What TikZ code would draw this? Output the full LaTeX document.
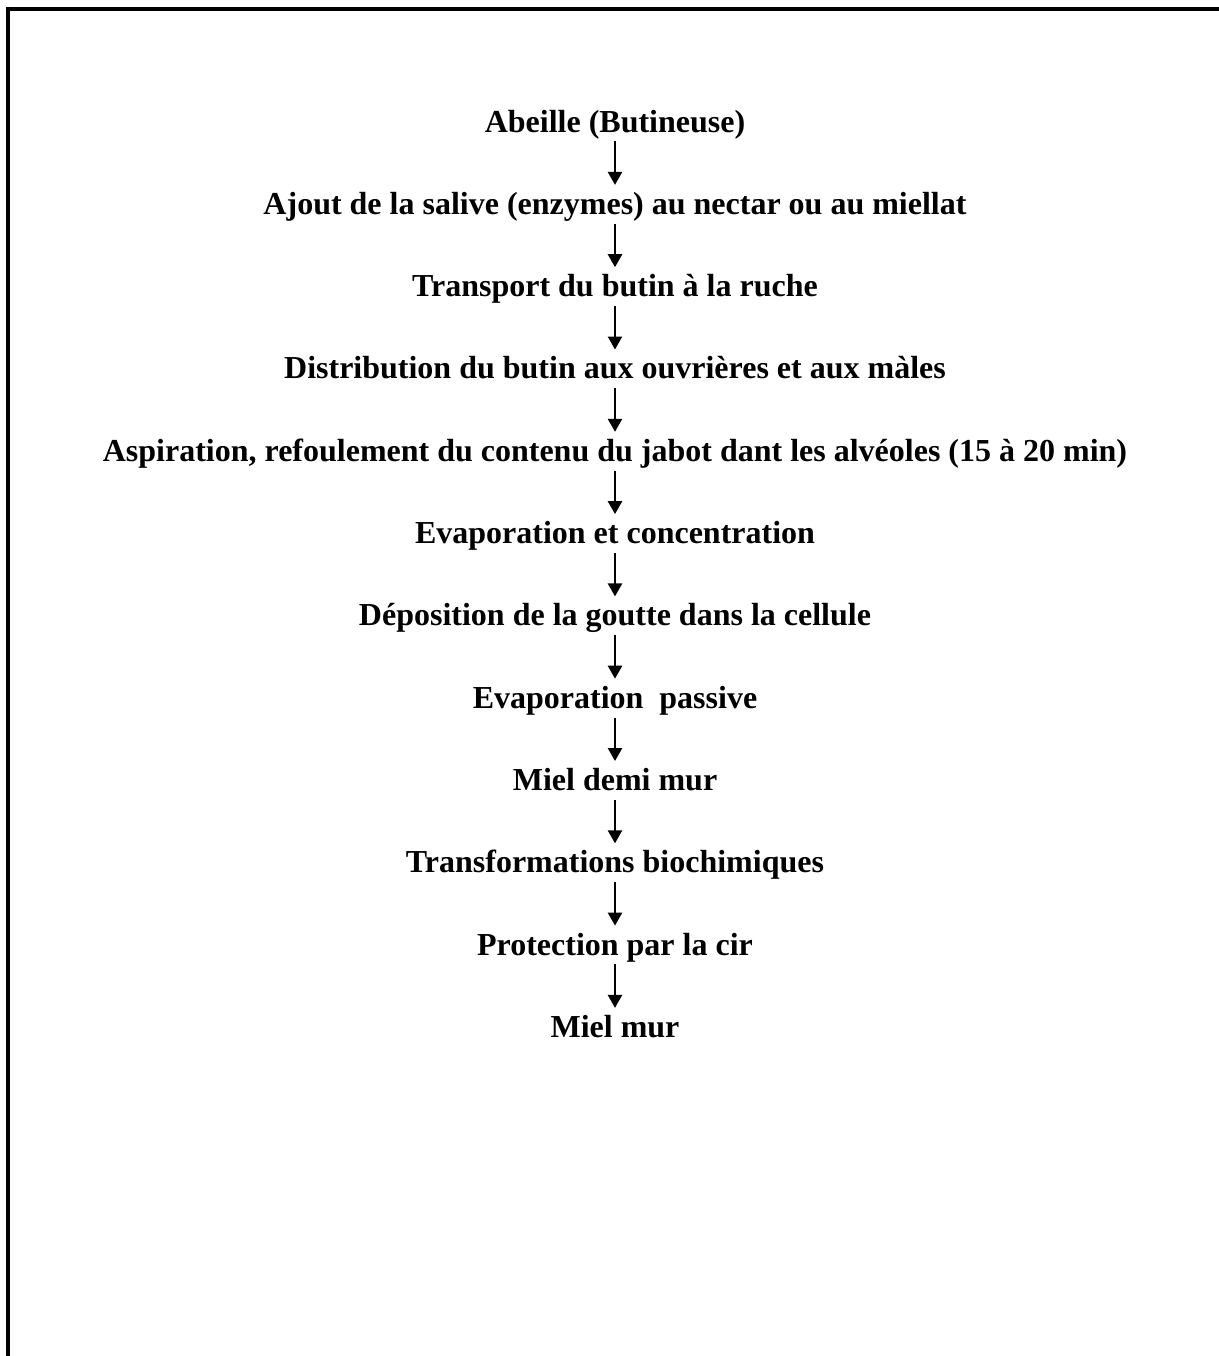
\documentclass[tikz,border=0pt]{standalone}
\usepackage{fontspec}
\setmainfont{Liberation Serif}
\usepackage{tikz}
\usetikzlibrary{arrows.meta,positioning}

\begin{document}
\begin{tikzpicture}[
    font=\fontsize{16}{19}\selectfont\bfseries,
    node distance=0mm,
    stage/.style={inner sep=0pt, text height=11pt, text depth=3.5pt, align=center},
    flow/.style={-{Triangle[length=6.5pt, width=7pt]}, line width=1.2pt, shorten <=1pt, shorten >=3.5pt, xshift=-2.5pt}
]
\useasboundingbox (0,0) rectangle (609.5pt,-678pt);
% page frame
\draw[line width=1.6pt] (609.5pt,-4.5pt) -- (4pt,-4.5pt) -- (4pt,-678pt);

\node[stage] (abeille) at (307.5pt,-62.25pt) {Abeille (Butineuse)};
\node[stage, below=26.25pt of abeille] (salive) {Ajout de la salive (enzymes) au nectar ou au miellat};
\node[stage, below=26.25pt of salive] (transport) {Transport du butin à la ruche};
\node[stage, below=26.25pt of transport] (distrib) {Distribution du butin aux ouvrières et aux màles};
\node[stage, below=26.25pt of distrib] (aspir) {Aspiration, refoulement du contenu du jabot dant les alvéoles (15 à 20 min)};
\node[stage, below=26.25pt of aspir] (evapconc) {Evaporation et concentration};
\node[stage, below=26.25pt of evapconc] (depos) {Déposition de la goutte dans la cellule};
\node[stage, below=26.25pt of depos] (evappass) {Evaporation~~passive};
\node[stage, below=26.25pt of evappass] (demimur) {Miel demi mur};
\node[stage, below=26.25pt of demimur] (biochim) {Transformations biochimiques};
\node[stage, below=26.25pt of biochim] (protect) {Protection par la cir};
\node[stage, below=26.25pt of protect] (mur) {Miel mur};

\draw[flow] (abeille.south) -- (salive.north);
\draw[flow] (salive.south) -- (transport.north);
\draw[flow] (transport.south) -- (distrib.north);
\draw[flow] (distrib.south) -- (aspir.north);
\draw[flow] (aspir.south) -- (evapconc.north);
\draw[flow] (evapconc.south) -- (depos.north);
\draw[flow] (depos.south) -- (evappass.north);
\draw[flow] (evappass.south) -- (demimur.north);
\draw[flow] (demimur.south) -- (biochim.north);
\draw[flow] (biochim.south) -- (protect.north);
\draw[flow] (protect.south) -- (mur.north);
\end{tikzpicture}
\end{document}
